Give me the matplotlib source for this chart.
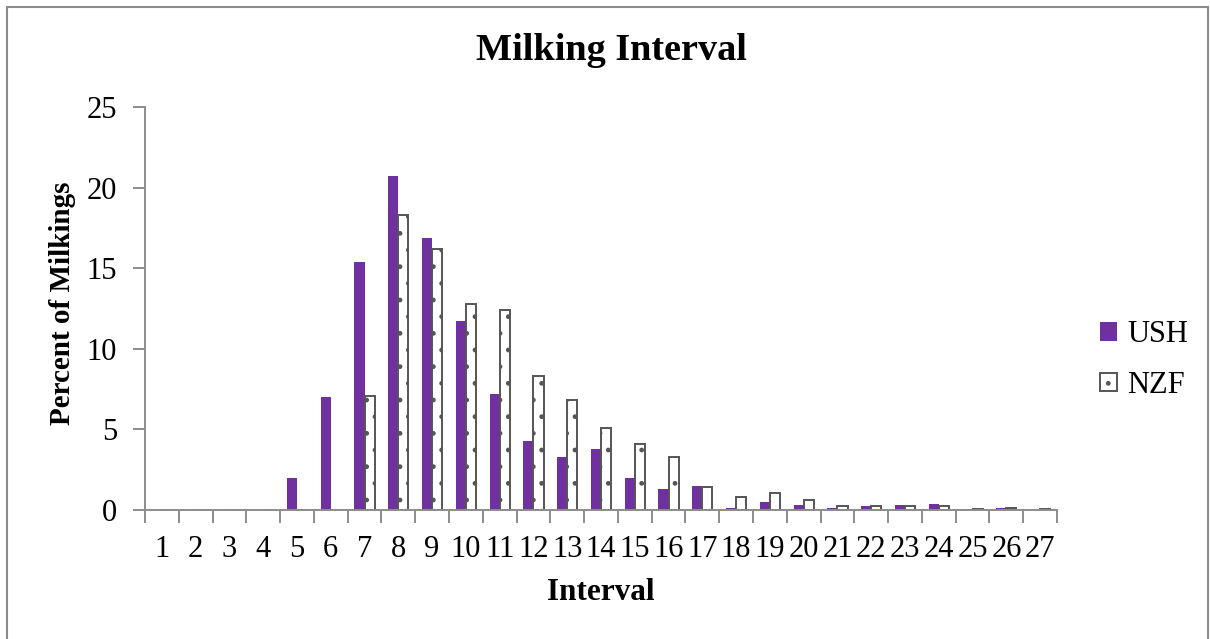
import numpy as np
import matplotlib.pyplot as plt
from matplotlib.patches import Rectangle

# Share of milkings (%) per interval class
intervals = list(range(1, 28))
ush = [0, 0, 0, 0, 2.0, 7.0, 15.4, 20.7, 16.9, 11.7, 7.2, 4.3, 3.3, 3.8,
       2.0, 1.3, 1.5, 0.1, 0.5, 0.3, 0.1, 0.22, 0.3, 0.37, 0.08, 0.15, 0]
nzf = [0, 0, 0, 0, 0, 0, 7.1, 18.3, 16.2, 12.8, 12.4, 8.3, 6.85, 5.1,
       4.1, 3.3, 1.4, 0.8, 1.05, 0.65, 0.25, 0.25, 0.25, 0.22, 0.08, 0.12, 0.08]

plt.rcParams['font.family'] = 'Liberation Serif'
plt.rcParams['hatch.color'] = '#777777'
plt.rcParams['hatch.linewidth'] = 1.0

fig = plt.figure(figsize=(12.1, 6.39), dpi=100)
ax = fig.add_axes([145 / 1210, 1 - 510 / 639, (1057 - 145) / 1210, (510 - 107) / 639])

# frame around the whole chart
fig.patches.append(Rectangle((7 / 1210, -0.02), 1201 / 1210, 1 - 7 / 639 + 0.02,
                             transform=fig.transFigure, fill=False,
                             edgecolor='#8c8c8c', linewidth=1.5))

x = np.arange(len(intervals))
w = 0.3
ax.bar(x - w / 2, ush, w, color='#7030A0', label='USH')
ax.bar(x + w / 2, nzf, w, color='white', edgecolor='#555555', linewidth=1.4,
       hatch='.', label='NZF')

ax.set_xlim(-0.5, len(intervals) - 0.5)
ax.set_ylim(0, 25)
ax.set_yticks(range(0, 26, 5))

# ticks on category boundaries, labels on category centres
ax.set_xticks(np.arange(-0.5, len(intervals), 1))
ax.set_xticklabels([])
ax.set_xticks(x, minor=True)
ax.set_xticklabels([str(i) for i in intervals], minor=True)
ax.tick_params(axis='x', which='minor', length=0, pad=18, labelsize=22)
ax.tick_params(axis='x', which='major', length=9, width=1.4, color='#8c8c8c')
ax.tick_params(axis='y', length=9, width=1.4, color='#8c8c8c', labelsize=22, pad=11)

for side in ['top', 'right']:
    ax.spines[side].set_visible(False)
for side in ['left', 'bottom']:
    ax.spines[side].set_color('#8c8c8c')
    ax.spines[side].set_linewidth(1.4)

fig.text(611 / 1210, 1 - 51 / 639, 'Milking Interval', ha='center', va='center',
         fontsize=27.5, fontweight='bold')
fig.text(601 / 1210, 1 - 592 / 639, 'Interval', ha='center', va='center',
         fontsize=22.5, fontweight='bold')
fig.text(62 / 1210, 1 - 303 / 639, 'Percent of Milkings', ha='center', va='center',
         fontsize=21, fontweight='bold', rotation=90)

fig.legend(loc='center left', bbox_to_anchor=(1100 / 1210, 1 - 360 / 639),
           frameon=False, fontsize=22, handlelength=0.55, handleheight=0.55,
           handletextpad=0.35, labelspacing=0.7, borderpad=0, borderaxespad=0)

fig.savefig('out.png', dpi=100)
